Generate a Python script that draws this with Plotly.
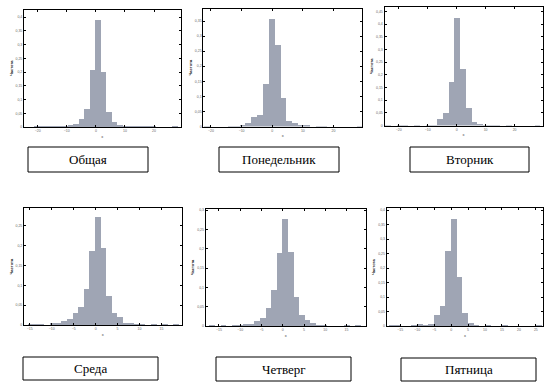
import plotly.graph_objects as go

W, H = 555, 388

# ---- data (frequency per bin) ----
titles = ["Общая", "Понедельник", "Вторник", "Среда", "Четверг", "Пятница"]

# first bin index (k) for each panel, bin width and zero-edge offset (x units)
k_start = [-11, -11, -12, -12, -13, -11]
bin_width = [1.897, 1.91, 1.98, 1.277, 1.32, 1.67]
edge0 = [-0.23, -1.1, -0.8, -0.15, -0.08, 0.0]

freq_total = [0.003, 0.003, 0.003, 0.003, 0.003, 0.003, 0.006, 0.011, 0.03, 0.066,
              0.206, 0.388, 0.2, 0.054, 0.018, 0.007, 0.003, 0.003, 0.003, 0.003,
              0.003, 0.003, 0, 0, 0, 0.003]
freq_mon = [0.003, 0, 0, 0, 0.003, 0.003, 0.004, 0.01, 0.03, 0.037,
            0.14, 0.357, 0.272, 0.096, 0.017, 0.013, 0.004, 0.004, 0, 0.003,
            0.003, 0, 0, 0, 0, 0, 0.003]
freq_tue = [0.002, 0, 0.002, 0.002, 0, 0.002, 0, 0.002, 0.002, 0.024,
            0.05, 0.173, 0.426, 0.223, 0.07, 0.0145, 0.0066, 0.002, 0.002, 0.002,
            0, 0.002, 0, 0, 0, 0, 0.002]
freq_wed = [0.002, 0.002, 0.002, 0, 0.004, 0.004, 0.009, 0.014, 0.029, 0.046,
            0.091, 0.187, 0.271, 0.193, 0.074, 0.031, 0.019, 0.006, 0.004, 0.002,
            0.002, 0, 0.002, 0, 0.002, 0, 0.002]
freq_thu = [0.002, 0, 0.002, 0, 0.002, 0.002, 0.006, 0.006, 0.013, 0.021,
            0.047, 0.093, 0.19, 0.277, 0.192, 0.075, 0.028, 0.016, 0.009, 0.003,
            0.003, 0.001, 0, 0, 0.002, 0, 0.002]
freq_fri = [0.002, 0.002, 0, 0, 0.002, 0.007, 0.002, 0.007, 0.038, 0.069,
            0.259, 0.369, 0.17, 0.045, 0.0115, 0.005, 0, 0.002, 0, 0,
            0.002, 0, 0, 0, 0, 0, 0.002]
freqs = [freq_total, freq_mon, freq_tue, freq_wed, freq_thu, freq_fri]

x_ranges = [[-24.7, 29.1], [-22.5, 29.3], [-24.9, 29.7],
            [-16.3, 19.6], [-18.1, 19.5], [-19.0, 27.2]]
y_ranges = [[0, 0.428], [0, 0.391], [0, 0.467], [0, 0.294], [0, 0.3026], [0, 0.406]]
x_dtick = [10, 10, 10, 5, 5, 5]
y_dtick = 0.05

# ---- layout geometry (pixels) ----
frames = [  # left, right, top, bottom
    (24, 180.5, 9.5, 127),
    (203.3, 362, 8.7, 126.5),
    (384.5, 542.7, 7.3, 125.5),
    (24, 181.7, 208.3, 325),
    (205.7, 365.7, 209, 326),
    (386.7, 543.3, 208.3, 326),
]
boxes = [  # left, right, top, bottom
    (28, 148, 147, 172),
    (219, 339, 147, 172),
    (410, 529, 147, 172),
    (23, 158, 357, 380),
    (216, 351, 357, 381),
    (401, 536, 358, 381),
]

bar_color = "#9fa5b4"
fig = go.Figure()
layout = dict(
    width=W, height=H, margin=dict(l=0, r=0, t=0, b=0, pad=0, autoexpand=False),
    paper_bgcolor="white", plot_bgcolor="white", showlegend=False,
    separators=", ", bargap=0,
    font=dict(family="Liberation Sans", size=4, color="#444"),
)
shapes, annotations = [], []

for i in range(6):
    n = i + 1
    xa = "x" if n == 1 else f"x{n}"
    ya = "y" if n == 1 else f"y{n}"
    ks = [k_start[i] + j for j in range(len(freqs[i]))]
    centers = [edge0[i] + (k + 0.5) * bin_width[i] for k in ks]
    fig.add_trace(go.Bar(
        x=centers, y=freqs[i], width=bin_width[i], xaxis=xa, yaxis=ya,
        marker=dict(color=bar_color, line=dict(width=0)), hoverinfo="skip",
    ))
    l, r, t, b = frames[i]
    axis_common = dict(
        showline=True, linecolor="black", linewidth=1, mirror="ticks",
        ticks="inside", ticklen=2, tickcolor="black", showgrid=False,
        zeroline=False, tickfont=dict(size=3.5, color="#666"), automargin=False,
    )
    layout["xaxis" if n == 1 else f"xaxis{n}"] = dict(
        domain=[l / W, r / W], range=x_ranges[i], dtick=x_dtick[i], tick0=0,
        anchor=ya, title=dict(text="x", font=dict(size=4), standoff=2),
        **axis_common,
    )
    layout["yaxis" if n == 1 else f"yaxis{n}"] = dict(
        domain=[1 - b / H, 1 - t / H], range=y_ranges[i], dtick=y_dtick, tick0=0,
        anchor=xa, title=dict(text="<b>Частота</b>", font=dict(size=4, color="#222"), standoff=2),
        **axis_common,
    )
    bl, br, bt, bb = boxes[i]
    shapes.append(dict(type="rect", xref="paper", yref="paper",
                       x0=bl / W, x1=br / W, y0=1 - bb / H, y1=1 - bt / H,
                       line=dict(color="black", width=1), fillcolor="white"))
    annotations.append(dict(xref="paper", yref="paper", x=(bl + br) / 2 / W,
                            y=1 - (bt + bb) / 2 / H, text=titles[i], showarrow=False,
                            xanchor="center", yanchor="middle",
                            font=dict(family="Liberation Serif", size=13, color="black")))

layout["shapes"] = shapes
layout["annotations"] = annotations
fig.update_layout(**layout)
fig.write_html(
    "out.html",
    config={"displayModeBar": False, "staticPlot": True},
    post_script="document.body.style.margin='0';document.body.style.overflow='hidden';",
)
